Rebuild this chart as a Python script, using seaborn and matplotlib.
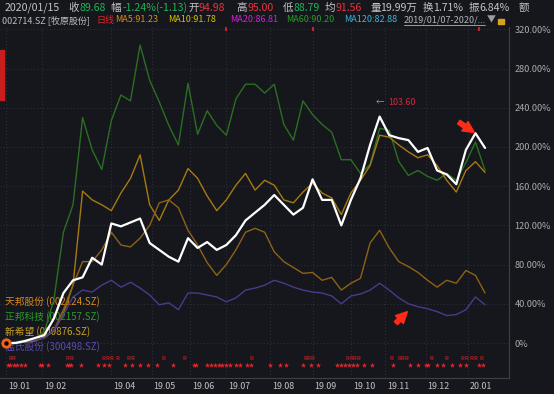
#!/usr/bin/env python3
"""Pig stock relative performance chart (2019-01-07 .. 2020-01-15), dark trading-terminal style."""

import matplotlib
matplotlib.use("Agg")
import matplotlib.pyplot as plt
import matplotlib.transforms as mtrans
from matplotlib.lines import Line2D
from matplotlib.patches import Rectangle
import pandas as pd
import seaborn as sns

# ---- data -------------------------------------------------------------
HOLIDAYS = ["2019-02-04", "2019-02-05", "2019-02-06", "2019-02-07", "2019-02-08",
            "2019-04-05", "2019-05-01", "2019-05-02", "2019-05-03", "2019-06-07",
            "2019-09-13", "2019-10-01", "2019-10-02", "2019-10-03", "2019-10-04",
            "2019-10-07", "2020-01-01"]
trade_dates = pd.bdate_range("2019-01-07", "2020-01-15", freq="C", holidays=HOLIDAYS)

# values read every 5 trading days (+ last day), cumulative change in %
sample_days = list(range(0, 250, 5)) + [250]

muyuan = [0, 0, 2, 5, 8, 25, 51, 64, 67, 87, 80, 122, 119, 123, 127, 102, 95, 88, 83, 107,
          97, 103, 95, 100, 110, 125, 133, 141, 151, 141, 131, 138, 167, 146, 146, 120, 146,
          168, 202, 231, 212, 209, 207, 195, 199, 176, 172, 162, 197, 214, 199]
zhengbang = [0, 1, 3, 5, 11, 44, 113, 141, 230, 197, 177, 227, 253, 247, 304, 268, 246, 222,
             202, 265, 213, 237, 222, 212, 249, 264, 264, 255, 264, 223, 207, 247, 233, 223,
             215, 187, 187, 173, 182, 219, 217, 185, 171, 176, 170, 166, 173, 166, 184, 205, 176]
tianbang = [0, 0, 1, 2, 6, 12, 30, 59, 155, 146, 141, 135, 153, 168, 192, 141, 125, 146, 156,
            178, 168, 150, 135, 146, 161, 173, 156, 166, 161, 146, 143, 154, 163, 153, 148, 131,
            153, 166, 181, 212, 210, 202, 195, 189, 192, 181, 166, 154, 176, 185, 174]
xinxiwang = [0, 0, 2, 3, 5, 13, 34, 59, 83, 83, 95, 113, 100, 98, 107, 120, 143, 146, 138, 115,
             100, 82, 69, 80, 95, 113, 117, 113, 93, 83, 77, 71, 72, 64, 67, 54, 61, 66, 102,
             115, 97, 83, 78, 72, 64, 57, 64, 61, 74, 69, 51]
wenshi = [0, 0, 1, 3, 5, 13, 29, 47, 54, 52, 59, 64, 57, 62, 56, 49, 39, 41, 34, 51, 51, 49,
          47, 42, 46, 54, 56, 59, 64, 61, 57, 54, 52, 51, 48, 40, 48, 50, 54, 61, 54, 46, 40,
          37, 35, 32, 28, 29, 34, 47, 39]

# signal rows under the curves (trading-day index)
star_days = [1, 2, 4, 6, 8, 10, 18, 19, 22, 32, 33, 34, 39, 48, 51, 54, 62, 66, 70, 74, 79,
             87, 98, 99, 105, 107, 109, 111, 113, 115, 117, 120, 122, 126, 128, 138, 143, 146,
             155, 159, 163, 173, 175, 177, 179, 181, 183, 187, 191, 202, 211, 215, 219, 220,
             225, 228, 233, 237, 240, 247, 249]
r_days = [2, 4, 32, 34, 51, 53, 55, 58, 64, 66, 82, 93, 128, 156, 158, 160, 178, 180, 182,
          184, 201, 205, 207, 209, 222, 230, 238, 240, 243, 245, 248]
flag_days = [115, 160, 247]

y_ticks = [0, 40, 80, 120, 160, 200, 240, 280, 320]
hidden_months = ["2019-03"]

legend_names = ["天邦股份 (002124.SZ)", "正邦科技 (002157.SZ)",
                "新希望 (000876.SZ)", "温氏股份 (300498.SZ)"]

# ---- style --------------------------------------------------------------
BG = "#15171d"
GRID = "#2c2f37"
AXIS = "#3d4048"
TXT = "#c4c4c4"
UP = "#e8333b"
DOWN = "#1fb356"

sns.set_theme(style="dark", rc={"axes.facecolor": BG, "figure.facecolor": BG})
plt.rcParams["font.family"] = ["Noto Sans CJK SC", "DejaVu Sans"]

W, H = 554, 394
fig = plt.figure(figsize=(W / 100, H / 100), dpi=100)
ax = fig.add_axes([0, 16 / H, 509 / W, 351 / H])
ax.set_facecolor(BG)


def fx(px):
    return px / W


def fy(py):
    return 1 - py / H


# curves
sns.lineplot(x=sample_days, y=zhengbang, ax=ax, color="#2c6e22", lw=1.0, zorder=3)
sns.lineplot(x=sample_days, y=tianbang, ax=ax, color="#a67a12", lw=1.0, zorder=3)
sns.lineplot(x=sample_days, y=xinxiwang, ax=ax, color="#8e6216", lw=1.0, zorder=3)
sns.lineplot(x=sample_days, y=wenshi, ax=ax, color="#4a3a8a", lw=1.0, zorder=3)
sns.lineplot(x=sample_days, y=muyuan, ax=ax, color="white", lw=1.6, zorder=4)

ax.set_xlim(-3.1, 262.5)
ax.set_ylim(-35.7, 322.4)

# axes / grid
month_first = pd.Series(range(len(trade_dates)), index=trade_dates)
month_first = month_first.groupby(trade_dates.to_period("M")).min()
month_first = month_first[[str(p) not in hidden_months for p in month_first.index]]
ax.set_xticks(month_first.values)
ax.set_xticklabels([])
ax.tick_params(axis="x", length=11, width=0.8, color=AXIS, direction="out")
ax.yaxis.tick_right()
ax.set_yticks(y_ticks)
ax.set_yticklabels([f"{v:.2f}%" if v else "0%" for v in y_ticks])
ax.tick_params(axis="y", length=0, pad=4, labelsize=6.6, labelcolor="#a9a9a9")
ax.grid(True, color=GRID, linestyle=(0, (1, 2)), lw=0.8)
for side in ["left", "top"]:
    ax.spines[side].set_visible(False)
for side in ["right", "bottom"]:
    ax.spines[side].set_color(AXIS)
    ax.spines[side].set_linewidth(0.8)
ax.set_xlabel("")
ax.set_ylabel("")

xtrans = mtrans.blended_transform_factory(ax.transData, ax.transAxes)
for pos, per in zip(month_first.values, month_first.index):
    ax.text(pos + 1, -0.024, per.strftime("%y.%m"), transform=xtrans, ha="left",
            va="center", fontsize=6.4, color=TXT, clip_on=False)

# signal rows
ax.scatter(star_days, [0.037] * len(star_days), transform=xtrans, marker="*", s=16,
           color="#e3262c", linewidths=0, zorder=3, clip_on=False)
for d in r_days:
    ax.text(d, 0.056, "R", transform=xtrans, ha="center", va="center", fontsize=4.3,
            color="#e3262c", zorder=3)
ax.scatter(flag_days, [0.993] * len(flag_days), transform=xtrans, marker="|", s=10,
           color="#e3262c", linewidths=1.2, zorder=3)

# legend texts (behind curves)
legend_cols = ["#d88a1c", "#2c9b2c", "#caa024", "#5c48b4"]
for k, (name, col) in enumerate(zip(legend_names, legend_cols)):
    ax.text(5 / 509, (378 - 302 - 15 * k) / 351, name, transform=ax.transAxes,
            fontsize=7, color=col, va="center", ha="left", zorder=1)

# cursor dot on first point
ax.scatter([sample_days[0]], [muyuan[0]], s=55, color="#f0621a", zorder=6, linewidths=0)
ax.scatter([sample_days[0]], [muyuan[0]], s=10, color="black", zorder=7, linewidths=0)

# max label
imax = max(range(len(muyuan)), key=lambda i: muyuan[i])
ax.annotate("←", xy=(sample_days[imax], muyuan[imax]), xytext=(-3, 10),
            textcoords="offset points", fontsize=6, color="#9a9a9a", ha="left", va="center",
            zorder=6)
ax.annotate("103.60", xy=(sample_days[imax], muyuan[imax]), xytext=(6, 10),
            textcoords="offset points", fontsize=6.4, color="#d8283a", ha="left",
            va="center", zorder=6)

# red hand-drawn arrows
arrow = dict(arrowstyle="simple,head_length=0.9,head_width=0.9,tail_width=0.35",
             color="#ff2a18", shrinkA=0, shrinkB=1, mutation_scale=9)
ax.annotate("", xy=(sample_days[49], muyuan[49]), xytext=(-12, 8),
            textcoords="offset points", arrowprops=arrow, zorder=8)
ax.annotate("", xy=(sample_days[42], wenshi[42] - 7), xytext=(-9, -9),
            textcoords="offset points", arrowprops=arrow, zorder=8)

# ---- header ---------------------------------------------------------------
row1 = [("2020/01/15", 5, TXT), ("收", 68, TXT), ("89.68", 80, DOWN), ("幅", 110, TXT),
        ("-1.24%(-1.13)", 123, DOWN), ("开", 188, TXT), ("94.98", 198, UP),
        ("高", 236, TXT), ("95.00", 247, UP), ("低", 283, TXT), ("88.79", 293, DOWN),
        ("均", 325, TXT), ("91.56", 336, UP), ("量", 370, TXT), ("19.99万", 380, TXT),
        ("换", 423, TXT), ("1.71%", 433, TXT), ("振", 469, TXT), ("6.84%", 479, TXT),
        ("额", 519, TXT)]
for text, px, col in row1:
    fig.text(fx(px), fy(8), text, fontsize=7.6, color=col, ha="left", va="center")

row2 = [("002714.SZ [牧原股份]", 2, "#bdbdbd"), ("日线", 96, "#e02222"),
        ("MA5:91.23", 115, "#e08c10"), ("MA10:91.78", 168, "#d2c400"),
        ("MA20:86.81", 230, "#d021d0"), ("MA60:90.20", 286, "#22a022"),
        ("MA120:82.88", 344, "#3cb4d8"), ("2019/01/07-2020/...", 404, "#b4b4b4"),
        ("▼", 487, "#9c9c9c")]
for text, px, col in row2:
    fig.text(fx(px), fy(20), text, fontsize=6.5, color=col, ha="left", va="center")
fig.add_artist(Line2D([fx(404), fx(485)], [fy(25), fy(25)], color="#b4b4b4", lw=0.6))
fig.add_artist(Rectangle((fx(498), fy(24)), 6 / W, 5 / H, color="#d9a21c",
                         transform=fig.transFigure))
fig.add_artist(Rectangle((0, fy(100)), 4 / W, 50 / H, color="#c81e1e",
                         transform=fig.transFigure))

fig.savefig("out.png", dpi=100, facecolor=BG)
